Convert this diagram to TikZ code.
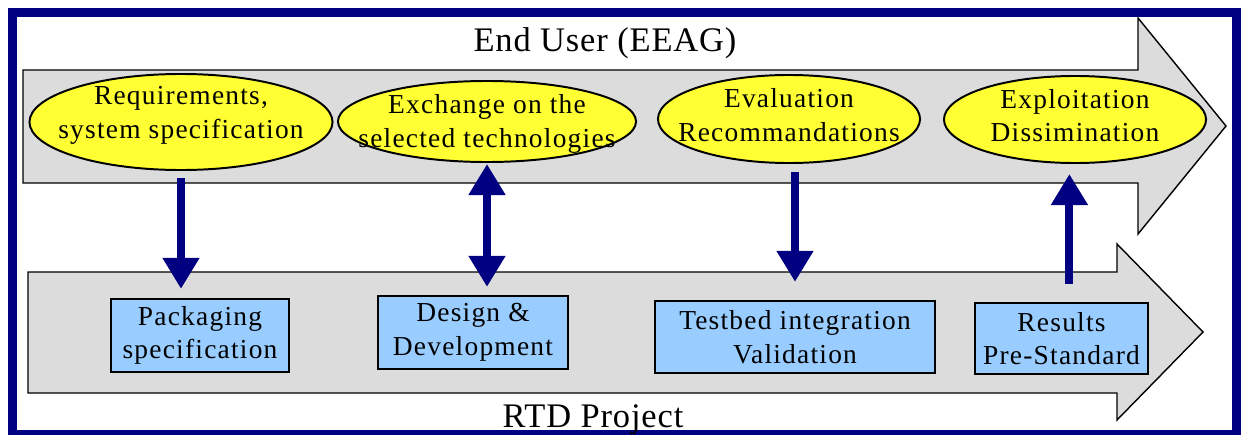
\documentclass[tikz,border=0pt]{standalone}
\usepackage{fontspec}
\setmainfont{Liberation Serif}
\newfontfamily\smallface[LetterSpace=4.5]{Liberation Serif}
\newfontfamily\bigface[LetterSpace=2.5]{Liberation Serif}
\usepackage{tikz}
\usetikzlibrary{arrows.meta,positioning,calc,shapes.geometric}
\definecolor{navy}{HTML}{000080}
\definecolor{flowgray}{HTML}{DCDCDC}
\definecolor{ovalyellow}{HTML}{FFFF33}
\definecolor{boxblue}{HTML}{99CCFF}

\begin{document}
\begin{tikzpicture}[x=0.025cm,y=-0.025cm,
  flow/.style={draw,line width=1pt,fill=flowgray},
  oval/.style={ellipse,draw,line width=1.4pt,fill=ovalyellow,inner sep=0pt},
  ovaltext/.style={align=center,inner sep=0pt,font=\smallface\fontsize{19.5}{24}\selectfont},
  task/.style={draw,line width=1.6pt,fill=boxblue,align=center,inner sep=0pt,font=\smallface\fontsize{19.5}{24}\selectfont},
  title/.style={anchor=base,inner sep=0pt,font=\bigface\fontsize{24.5}{28}\selectfont},
  link/.style={navy,line width=0.2cm,-{Triangle[width=0.875cm,length=0.775cm]}},
  twoway/.style={navy,line width=0.2cm,{Triangle[width=0.875cm,length=0.775cm]}-{Triangle[width=0.875cm,length=0.775cm]}}]
\useasboundingbox (0,0) rectangle (1241,434);
\draw[navy,line width=6.4pt] (12.5,12.5) rectangle (1236.5,434);

% the two big arrows
\draw[flow] (23,70) -- (1138,70) -- (1138,18) -- (1226,126) -- (1138,234) -- (1138,183) -- (23,183) -- cycle;
\draw[flow] (28,272) -- (1117,272) -- (1117,244) -- (1203,332) -- (1117,420) -- (1117,393) -- (28,393) -- cycle;
\node[title] (enduser) at (605,51) {End User (EEAG)};
\node[title] (rtd) at (593,427) {RTD Project};

% end user side
\node[oval,minimum width=7.575cm,minimum height=2.4cm] (req) at (181,122) {};
\node[ovaltext,yshift=0.17cm] (reqtxt) at (req) {Requirements,\\system specification};
\node[oval,minimum width=7.45cm,minimum height=2.025cm] (exch) at (487,121.5) {};
\node[ovaltext,yshift=-0.07cm] (exchtxt) at (exch) {Exchange on the\\selected technologies};
\node[oval,minimum width=6.55cm,minimum height=2.2cm] (eval) at (789,119) {};
\node[ovaltext,yshift=0.1cm] (evaltxt) at (eval) {Evaluation\\Recommandations};
\node[oval,minimum width=6.55cm,minimum height=2.175cm] (exploit) at (1075,119.5) {};
\node[ovaltext,yshift=0.1cm] (exploittxt) at (exploit) {Exploitation\\Dissimination};

% project side
\node[task,minimum width=4.45cm,minimum height=1.825cm] (pack) at (200,335.5) {Packaging\\specification};
\node[task,minimum width=4.75cm,minimum height=1.825cm] (design) at (473,332.5) {Design \&\\Development};
\node[task,minimum width=7cm,minimum height=1.8cm] (testbed) at (795,337) {Testbed integration\\Validation};
\node[task,minimum width=4.325cm,minimum height=1.775cm] (results) at (1061.5,338.5) {Results\\Pre-Standard};

\draw[link,shorten <=0.175cm,shorten >=0.225cm] (req.south) -- (req.south |- pack.north);
\draw[twoway,shorten <=0.025cm,shorten >=0.2cm] (exch.south) -- (exch.south |- design.north);
\draw[link,shorten <=0.2cm,shorten >=0.45cm] (testbed.north |- eval.south) -- (testbed.north);
\draw[link,shorten <=0.45cm,shorten >=0.25cm] ([xshift=-0.14cm]exploit.south |- results.north) -- ([xshift=-0.14cm]exploit.south);
\end{tikzpicture}
\end{document}
